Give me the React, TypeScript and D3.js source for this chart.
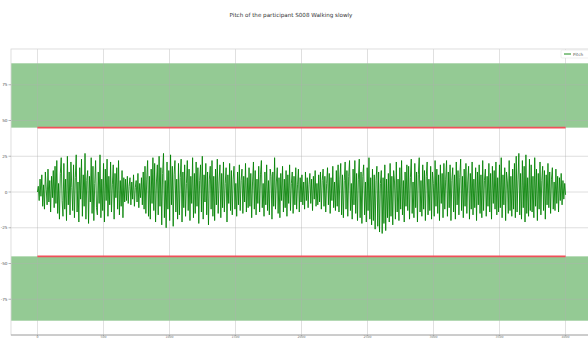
import * as d3 from "d3";

// pitch angle (degrees), evenly spaced over the samples
const pitch = [
  0, 4, -6, 9, -3, 12, -10, 5, -12, 14, 2, -9, 16, -7, 8, -14, 11, -4, 15, -11,
  18, -8, 22, -15, 6, -19, 13, 24, -6, -17, 20, -12, 9, -20, 25, -9, 14, -16, 21, 3,
  -13, 19, -18, 10, 26, -14, 7, -21, 17, -5, 23, -17, 12, -10, 27, -19, 8, 15, -22, 11,
  -7, 24, -15, 18, -20, 6, 22, -11, -16, 14, -8, 26, -18, 9, -13, 20, -21, 16, -6, 23,
  -17, 11, -9, 21, -14, 5, 19, -19, 13, -4, 17, -12, 22, -16, 8, -10, 15, -18, 10, -7,
  9, -6, 11, -8, 4, 10, -9, 7, -5, 12, -10, 3, 8, -7, 13, -11, 6, -4, 10, -9,
  14, -12, 18, -15, 9, 22, -17, 11, -19, 16, -8, 24, -13, 20, -21, 7, 19, -16, 25, -10,
  17, -23, 13, 27, -18, 8, -25, 21, -12, 15, -20, 26, -9, 18, -24, 12, 22, -14, 9, -19,
  20, -16, 10, 23, -21, 14, -11, 19, -17, 6, 22, -13, 16, -20, 11, -8, 24, -18, 13, -15,
  21, -10, 17, -22, 8, 19, -14, 25, -19, 12, -7, 20, -16, 14, -23, 9, 18, -12, 22, -17,
  11, -20, 16, -9, 23, -15, 7, 19, -18, 13, -11, 21, -14, 6, 17, -21, 12, -8, 20, -13,
  15, -16, 9, 18, -12, 6, -17, 14, -9, 19, -13, 8, 16, -15, 11, -7, 20, -14, 10, -11,
  17, -10, 13, -18, 7, 21, -12, 15, -16, 9, -8, 18, -14, 12, 22, -11, 6, -17, 14, -9,
  19, -13, 8, -16, 16, 11, -19, 14, -10, 24, -12, 7, 17, -15, 10, -18, 13, -6, 18, -14,
  9, -11, 15, -17, 12, -8, 19, -13, 6, 14, -15, 11, -9, 17, -12, 5, 16, -14, 10, -7,
  12, -9, 7, -12, 14, -6, 10, -11, 5, 13, -8, 9, -13, 11, -5, 15, -10, 6, -9, 12,
  -7, 14, -12, 8, 16, -10, 11, -14, 6, 17, -9, 13, -15, 10, -6, 18, -11, 7, -13, 15,
  -10, 19, -14, 9, 20, -16, 12, -18, 8, 21, -12, 15, -17, 11, 22, -13, 6, -19, 16, -9,
  22, -15, 13, -20, 9, 23, -18, 14, -22, 11, 19, -16, 7, -21, 17, -13, 24, -19, 10, -23,
  16, -20, 12, -26, 8, 18, -24, 14, -28, 6, 15, -29, 10, -22, 19, -27, 9, -18, 13, -21,
  20, -17, 11, -23, 15, 7, -19, 21, -14, 9, -20, 17, -12, 22, -16, 8, -21, 14, -10, 19,
  -13, 18, -19, 10, 23, -15, 7, -18, 20, -11, 14, -21, 12, 24, -14, 8, -17, 19, -12, 15,
  -20, 11, 21, -16, 9, -13, 18, -19, 14, 6, -17, 22, -10, 16, -15, 12, -20, 19, -8, 13,
  -18, 20, -12, 9, 22, -17, 14, -11, 19, -20, 8, 17, -14, 12, -19, 21, -9, 15, -16, 10,
  23, -13, 11, -18, 16, -10, 20, -15, 7, 18, -19, 13, -12, 21, -16, 9, -11, 17, -20, 14,
  -9, 19, -15, 12, -18, 22, -13, 8, 16, -17, 11, -10, 20, -14, 13, -19, 18, -8, 15, -12,
  21, -16, 10, -14, 19, -11, 24, -18, 12, -9, 17, -20, 14, 7, -15, 22, -13, 11, -17, 16,
  -12, 20, -18, 25, -14, 9, 27, -16, 13, -19, 22, -11, 18, -21, 26, -15, 10, -17, 23, -13,
  19, -14, 11, -18, 24, -10, 16, -20, 13, -12, 21, -16, 8, 18, -13, 15, -19, 12, -9, 20,
  -11, 14, -15, 9, 17, -12, 7, -13, 16, -8, 11, -14, 10, -6, 13, -9, 8, -5, 6, -2,
];

const sampleCount = 4000;
const xTicks = [0, 500, 1000, 1500, 2000, 2500, 3000, 3500, 4000];
const yTicks = [-75, -50, -25, 0, 25, 50, 75];
const threshold = 45; // red limit lines
const bandEdge = 90; // outer edge of the green zones

const W = 588;
const H = 338;
const left = 11;
const right = 592;
const top = 49;
const bottom = 335;

export default function App() {
  const x = d3.scaleLinear().domain([-200, 4200]).range([left, right]);
  const y = d3.scaleLinear().domain([-100, 100]).range([bottom, top]);

  const step = sampleCount / (pitch.length - 1);
  const line = d3
    .line<number>()
    .x((_, i) => x(i * step))
    .y((d) => y(d));

  const font = "DejaVu Sans, sans-serif";

  return (
    <div style={{ position: "fixed", left: 0, top: 0 }}>
      <svg width={W} height={H} style={{ display: "block", background: "#fff" }}>
        <text x={291} y={17} fontSize={5.6} fontFamily={font} textAnchor="middle" fill="#333">
          Pitch of the participant S008 Walking slowly
        </text>

        {/* green zones */}
        <rect x={left} y={y(bandEdge)} width={right - left} height={y(threshold) - y(bandEdge)} fill="green" opacity={0.42} />
        <rect x={left} y={y(-threshold)} width={right - left} height={y(-bandEdge) - y(-threshold)} fill="green" opacity={0.42} />

        {/* grid */}
        {xTicks.map((t) => (
          <line key={"gx" + t} x1={x(t)} x2={x(t)} y1={top} y2={bottom} stroke="#b0b0b0" strokeWidth={0.8} opacity={0.5} />
        ))}
        {yTicks.map((t) => (
          <line key={"gy" + t} x1={left} x2={right} y1={y(t)} y2={y(t)} stroke="#b0b0b0" strokeWidth={0.8} opacity={0.5} />
        ))}

        {/* limits */}
        <line x1={x(0)} x2={x(sampleCount)} y1={y(threshold)} y2={y(threshold)} stroke="#f0505a" strokeWidth={1.6} />
        <line x1={x(0)} x2={x(sampleCount)} y1={y(-threshold)} y2={y(-threshold)} stroke="#f0505a" strokeWidth={1.6} />

        {/* signal */}
        <path d={line(pitch) ?? ""} fill="none" stroke="green" strokeWidth={0.9} opacity={0.95} />

        {/* frame */}
        <rect x={left} y={top} width={right - left} height={bottom - top} fill="none" stroke="#d6d6d6" strokeWidth={0.8} />
        <line x1={left} x2={right} y1={bottom} y2={bottom} stroke="#999" strokeWidth={0.8} />

        {/* y axis */}
        {yTicks.map((t) => (
          <g key={"ty" + t}>
            <line x1={left - 2.5} x2={left} y1={y(t)} y2={y(t)} stroke="#888" strokeWidth={0.6} />
            <text x={left - 3.5} y={y(t) + 1.5} fontSize={4.2} fontFamily={font} textAnchor="end" fill="#555">
              {t}
            </text>
          </g>
        ))}

        {/* x axis */}
        {xTicks.map((t) => (
          <g key={"tx" + t}>
            <line x1={x(t)} x2={x(t)} y1={bottom} y2={bottom + 1} stroke="#888" strokeWidth={0.6} />
            <text x={x(t)} y={337.7} fontSize={3.2} fontFamily={font} textAnchor="middle" fill="#777">
              {t}
            </text>
          </g>
        ))}

        {/* legend */}
        <rect x={561} y={50} width={30} height={8} fill="#fff" stroke="#ddd" strokeWidth={0.5} rx={1} />
        <line x1={564} x2={571} y1={54} y2={54} stroke="green" strokeWidth={0.9} />
        <text x={573} y={55.5} fontSize={4.2} fontFamily={font} fill="#555">
          Pitch
        </text>
      </svg>
    </div>
  );
}
